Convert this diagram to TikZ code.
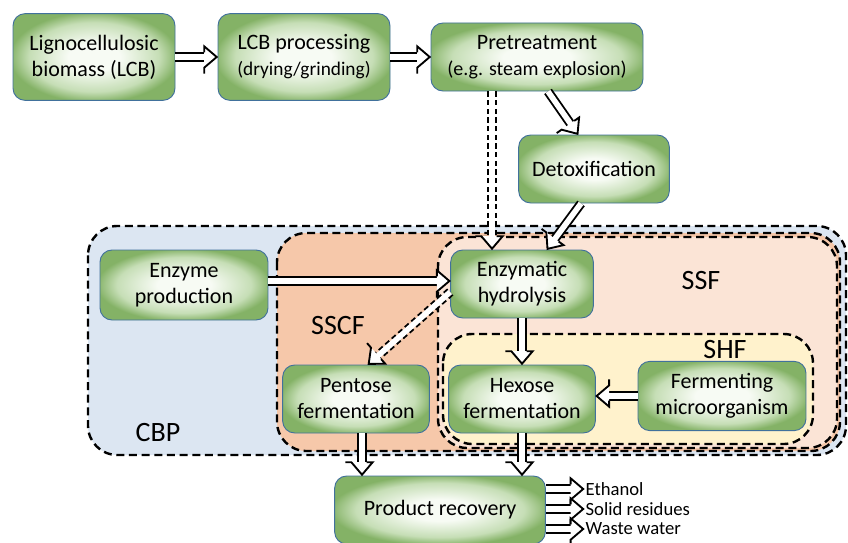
\documentclass[tikz,border=0pt]{standalone}
\usepackage{fontspec}
\setmainfont{Carlito}
\usetikzlibrary{calc,decorations.markings}
\definecolor{boxedge}{RGB}{65,113,156}
\definecolor{boxin}{RGB}{247,251,244}
\definecolor{boxmid}{RGB}{198,222,182}
\definecolor{boxout}{RGB}{132,178,102}
\definecolor{cbpblue}{RGB}{220,230,242}
\definecolor{sscforange}{RGB}{246,200,170}
\definecolor{ssfpeach}{RGB}{251,228,214}
\definecolor{shfyellow}{RGB}{255,242,204}
\pgfdeclareradialshading{boxshade}{\pgfpoint{0bp}{0bp}}{color(0bp)=(boxin); color(8bp)=(boxin); color(20bp)=(boxmid); color(26bp)=(boxout); color(50bp)=(boxout)}
\tikzset{
  box/.style={draw=boxedge, line width=0.7pt, rounded corners=9pt, shading=boxshade,
    align=center, font=\fontsize{16.5}{19.5}\selectfont, inner sep=2pt},
  zone/.style={draw=black, line width=1.8pt, dash pattern=on 6pt off 3.5pt, rounded corners=22pt},
  dbl/.style={draw, line width=7pt, shorten >=9pt,
    postaction={draw=white, solid, line width=4.2pt, shorten >=9pt},
    postaction={decorate, decoration={markings, mark=at position 1 with {
      \draw[solid, line width=1.4pt, fill=white, line join=miter, miter limit=4]
        (-10pt,3.5pt) -- (-10pt,8pt) -- (-0.6pt,0) -- (-10pt,-8pt) -- (-10pt,-3.5pt);}}}},
  ddbl/.style={dbl, dash pattern=on 4pt off 2.5pt},
  zonelabel/.style={font=\fontsize{21}{24}\selectfont},
  outlabel/.style={anchor=west, inner sep=1pt, font=\fontsize{14}{16}\selectfont}
}
\begin{document}
\begin{tikzpicture}[x=0.75pt,y=-0.75pt]
\useasboundingbox[fill=white] (0,0) rectangle (848,542);
% process zones
\draw[zone,fill=cbpblue] (88,226) rectangle (846,455);
\draw[zone,fill=sscforange] (277,233) rectangle (840,451);
\draw[zone,fill=ssfpeach] (438,237) rectangle (837,448);
\draw[zone,fill=shfyellow] (443,334) rectangle (813,444);
\node[zonelabel] (cbp-label) at (158,433) {CBP};
\node[zonelabel] (sscf-label) at (338,326) {SSCF};
\node[zonelabel] (ssf-label) at (701,281) {SSF};
\node[zonelabel] (shf-label) at (725,350) {SHF};
% process steps
\node[box,minimum width=121.5pt,minimum height=65pt] (lcb) at (94,57) {Lignocellulosic\\biomass (LCB)};
\node[box,minimum width=129pt,minimum height=65pt] (lcb-proc) at (304,57) {LCB processing\\{\fontsize{14.5}{17}\selectfont(drying/grinding)}};
\node[box,minimum width=159pt,minimum height=51pt] (pretreat) at (537,57) {Pretreatment\\{\fontsize{15}{18}\selectfont(e.g. steam explosion)}};
\node[box,minimum width=113pt,minimum height=51pt] (detox) at (594,169) {Detoxification};
\node[box,minimum width=126pt,minimum height=52.5pt] (enzyme-prod) at (184,285) {Enzyme\\production};
\node[box,minimum width=107pt,minimum height=51pt] (enz-hydro) at (522,284) {Enzymatic\\hydrolysis};
\node[box,minimum width=110pt,minimum height=51pt] (pentose) at (356,399) {Pentose\\fermentation};
\node[box,minimum width=110pt,minimum height=51pt] (hexose) at (522,399) {Hexose\\fermentation};
\node[box,minimum width=126pt,minimum height=52pt] (ferm-micro) at (722,396) {Fermenting\\microorganism};
\node[box,minimum width=158pt,minimum height=51pt] (recovery) at (440,510) {Product recovery};
\node[outlabel] (ethanol) at (584,489) {Ethanol};
\node[outlabel] (residues) at (584,509) {Solid residues};
\node[outlabel] (water) at (584,529) {Waste water};
\coordinate (enzyme-out) at ($(enzyme-prod.east)+(0,-4)$);
\coordinate (pentose-out) at ($(pentose.south)+(6,0)$);
% flows
\draw[dbl] (lcb) -- (lcb-proc);
\draw[dbl] (lcb-proc) -- (pretreat);
\draw[dbl] ($(pretreat.south)+(11,0)$) -- ($(detox.north)+(-16,0)$);
\draw[dbl] ($(detox.south)+(-13,0)$) -- ($(enz-hydro.north)+(25,0)$);
\draw[ddbl] ($(pretreat.south)+(-45,0)$) -- ($(enz-hydro.north)+(-30,0)$);
\draw[dbl] (enzyme-out) -- (enzyme-out -| enz-hydro.west);
\draw[ddbl] ($(enz-hydro.west)+(0,8)$) -- ($(pentose.north)+(12,0)$);
\draw[dbl] (enz-hydro) -- (hexose);
\draw[dbl] (ferm-micro.west) -- (ferm-micro.west -| hexose.east);
\draw[dbl] (pentose-out) -- (pentose-out |- recovery.north);
\draw[dbl] (hexose.south) -- (hexose.south |- recovery.north);
\draw[dbl] (recovery.east |- ethanol) -- (ethanol.west);
\draw[dbl] (recovery.east |- residues) -- (residues.west);
\draw[dbl] (recovery.east |- water) -- (water.west);
\end{tikzpicture}
\end{document}
